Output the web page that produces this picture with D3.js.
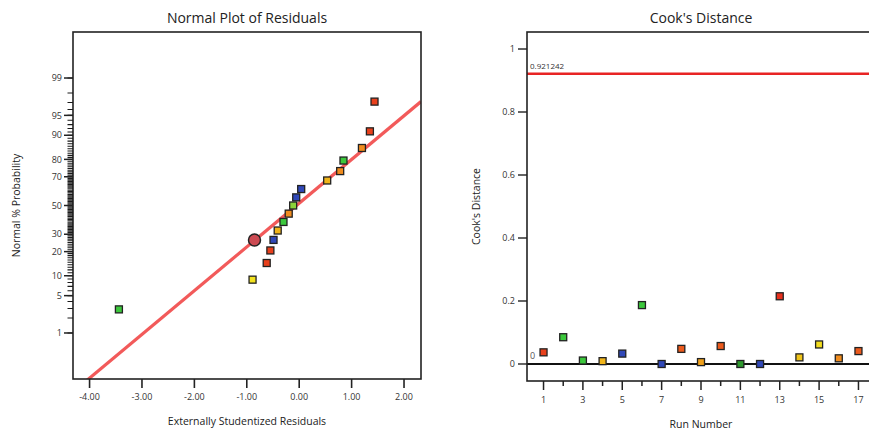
<!DOCTYPE html>
<html>
<head>
<meta charset="utf-8">
<script src="https://cdn.jsdelivr.net/npm/d3@7"></script>
<style>
  html, body { margin: 0; padding: 0; background: #fff; }
  svg { display: block; font-family: "Open Sans", "Noto Sans", sans-serif; }
</style>
</head>
<body>
<svg id="chart" width="869" height="430"></svg>
<script>
// ---- Normal plot of residuals ----
const residuals = [-3.44, -0.89, -0.62, -0.55, -0.49, -0.41, -0.30, -0.20, -0.115,
                   -0.057, 0.038, 0.534, 0.782, 0.845, 1.197, 1.349, 1.437];
const normalPct = [2.9, 8.8, 14.7, 20.6, 26.5, 32.4, 38.2, 44.1, 50.0,
                   55.9, 61.8, 67.6, 73.5, 79.4, 85.3, 91.2, 97.1];
const residColors = ["#3cc83c", "#f2e21e", "#e8401c", "#e8401c", "#3048b8", "#f0b41a",
                     "#3cc83c", "#f08c1e", "#8cd23a", "#3048b8", "#3048b8", "#f0b41a",
                     "#f08c1e", "#3cc83c", "#f08c1e", "#e8401c", "#e8401c"];
const highlightResidual = [-0.853];
const highlightPct = [26.5];
const fitIntercept = 0.042;   // normal quantile at residual 0
const fitSlope = 0.798;       // normal quantile per unit residual
const residTicks = [-4, -3, -2, -1, 0, 1, 2];
const probTicks = [1, 5, 10, 20, 30, 50, 70, 80, 90, 95, 99];
const probMinorTicks = d3.range(1, 100);

// ---- Cook's distance ----
const runs = d3.range(1, 18);
const cooks = [0.037, 0.085, 0.011, 0.009, 0.033, 0.187, 0.0, 0.048, 0.006,
               0.057, 0.0, 0.0, 0.215, 0.021, 0.062, 0.018, 0.041];
const cookColors = ["#e8401c", "#3cc83c", "#3cc83c", "#f0b41a", "#3048b8", "#3cc83c",
                    "#3048b8", "#ec5a1c", "#f0a01a", "#ec5a1c", "#2e9a2e", "#3048b8",
                    "#e8301c", "#f0c41a", "#f2dc1e", "#f08c1e", "#ec5a1c"];
const cookLimit = 0.921242;
const cookTicks = [0, 0.2, 0.4, 0.6, 0.8, 1];
const runTicks = runs;

// Inverse standard normal CDF (Acklam's rational approximation)
function probit(p) {
  const a = [-3.969683028665376e+01, 2.209460984245205e+02, -2.759285104469687e+02,
             1.383577518672690e+02, -3.066479806614716e+01, 2.506628277459239e+00];
  const b = [-5.447609879822406e+01, 1.615858368580409e+02, -1.556989798598866e+02,
             6.680131188771972e+01, -1.328068155288572e+01];
  const c = [-7.784894002430293e-03, -3.223964580411365e-01, -2.400758277161838e+00,
             -2.549732539343734e+00, 4.374664141464968e+00, 2.938163982698783e+00];
  const e = [7.784695709041462e-03, 3.224671290700398e-01, 2.445134137142996e+00,
             3.754408661907416e+00];
  const pl = 0.02425, ph = 1 - pl;
  let q, r;
  if (p < pl) {
    q = Math.sqrt(-2 * Math.log(p));
    return (((((c[0]*q+c[1])*q+c[2])*q+c[3])*q+c[4])*q+c[5]) / ((((e[0]*q+e[1])*q+e[2])*q+e[3])*q+1);
  }
  if (p <= ph) {
    q = p - 0.5; r = q * q;
    return (((((a[0]*r+a[1])*r+a[2])*r+a[3])*r+a[4])*r+a[5])*q / (((((b[0]*r+b[1])*r+b[2])*r+b[3])*r+b[4])*r+1);
  }
  q = Math.sqrt(-2 * Math.log(1 - p));
  return -(((((c[0]*q+c[1])*q+c[2])*q+c[3])*q+c[4])*q+c[5]) / ((((e[0]*q+e[1])*q+e[2])*q+e[3])*q+1);
}

const svg = d3.select("#chart");
const ink = "#222";
const tickFont = "9px";
const labelFont = "10.5px";
const titleFont = "14px";

// ================= Left panel =================
const L = { left: 73, right: 421, top: 32, bottom: 379 };
const xRes = d3.scaleLinear().domain([-4.316, 2.324]).range([L.left, L.right]);
const zScale = d3.scaleLinear().domain([-3.166, 3.166]).range([L.bottom, L.top]);
const yProb = p => zScale(probit(p / 100));

const left = svg.append("g");
left.append("clipPath").attr("id", "clipL")
  .append("rect").attr("x", L.left).attr("y", L.top)
  .attr("width", L.right - L.left).attr("height", L.bottom - L.top);

// fitted line
const xd = xRes.domain();
left.append("line")
  .attr("clip-path", "url(#clipL)")
  .attr("x1", xRes(xd[0])).attr("y1", zScale(fitIntercept + fitSlope * xd[0]))
  .attr("x2", xRes(xd[1])).attr("y2", zScale(fitIntercept + fitSlope * xd[1]))
  .attr("stroke", "#f25a5a").attr("stroke-width", 3.2);

// frame
left.append("rect")
  .attr("x", L.left).attr("y", L.top)
  .attr("width", L.right - L.left).attr("height", L.bottom - L.top)
  .attr("fill", "none").attr("stroke", ink).attr("stroke-width", 1.6);

// y axis minor + major ticks (probability scale)
const minorPath = d3.path();
probMinorTicks.forEach(p => {
  minorPath.moveTo(L.left - 5.5, yProb(p));
  minorPath.lineTo(L.left, yProb(p));
});
left.append("path").attr("d", minorPath.toString())
  .attr("fill", "none").attr("stroke", "#1a1a1a").attr("stroke-width", 1.1);
left.append("g").selectAll("line").data(probTicks).join("line")
  .attr("x1", L.left - 9).attr("x2", L.left)
  .attr("y1", d => yProb(d)).attr("y2", d => yProb(d))
  .attr("stroke", ink).attr("stroke-width", 1.5);
left.append("g").selectAll("text").data(probTicks).join("text")
  .attr("x", L.left - 11).attr("y", d => yProb(d))
  .attr("dy", "0.35em").attr("text-anchor", "end")
  .attr("font-size", tickFont).attr("fill", "#333")
  .text(d => d);

// x axis ticks
left.append("g").selectAll("line").data(residTicks).join("line")
  .attr("x1", d => xRes(d)).attr("x2", d => xRes(d))
  .attr("y1", L.bottom).attr("y2", L.bottom + 9)
  .attr("stroke", ink).attr("stroke-width", 1.6);
left.append("g").selectAll("text").data(residTicks).join("text")
  .attr("x", d => xRes(d)).attr("y", L.bottom + 21)
  .attr("text-anchor", "middle")
  .attr("font-size", tickFont).attr("fill", "#333")
  .text(d => d3.format(".2f")(d).replace("−", "-"));

// points
left.append("g").selectAll("rect").data(residuals).join("rect")
  .attr("x", d => xRes(d) - 3.5)
  .attr("y", (d, i) => yProb(normalPct[i]) - 3.5)
  .attr("width", 7).attr("height", 7)
  .attr("fill", (d, i) => residColors[i])
  .attr("stroke", ink).attr("stroke-width", 1.3);

// highlighted run
left.append("g").selectAll("circle").data(highlightResidual).join("circle")
  .attr("cx", d => xRes(d)).attr("cy", (d, i) => yProb(highlightPct[i]))
  .attr("r", 6)
  .attr("fill", "#cc4a52").attr("stroke", ink).attr("stroke-width", 1.5);

// titles
left.append("text").attr("x", (L.left + L.right) / 2).attr("y", 23)
  .attr("text-anchor", "middle").attr("font-size", titleFont).attr("fill", "#222")
  .text("Normal Plot of Residuals");
left.append("text").attr("x", (L.left + L.right) / 2).attr("y", 425)
  .attr("text-anchor", "middle").attr("font-size", labelFont).attr("fill", "#222")
  .text("Externally Studentized Residuals");
left.append("text")
  .attr("transform", `translate(20,${(L.top + L.bottom) / 2}) rotate(-90)`)
  .attr("text-anchor", "middle").attr("font-size", labelFont).attr("fill", "#222")
  .text("Normal % Probability");

// ================= Right panel =================
const R = { left: 527, right: 875, top: 32, bottom: 381 };
const xRun = d3.scaleLinear().domain([0.16, 17.84]).range([R.left, R.right]);
const yCook = d3.scaleLinear().domain([-0.054, 1.054]).range([R.bottom, R.top]);

const right = svg.append("g");

// zero reference line
right.append("line")
  .attr("x1", R.left).attr("x2", R.right)
  .attr("y1", yCook(0)).attr("y2", yCook(0))
  .attr("stroke", "#111").attr("stroke-width", 2);

// limit line
right.append("line")
  .attr("x1", R.left).attr("x2", R.right)
  .attr("y1", yCook(cookLimit)).attr("y2", yCook(cookLimit))
  .attr("stroke", "#e82424").attr("stroke-width", 2.6);
right.append("text").attr("x", R.left + 3).attr("y", yCook(cookLimit) - 5)
  .attr("font-size", "8px").attr("fill", "#333").text(cookLimit);
right.append("text").attr("x", R.left + 3).attr("y", yCook(0) - 5)
  .attr("font-size", "9px").attr("fill", "#555").text("0");

// frame
right.append("rect")
  .attr("x", R.left).attr("y", R.top)
  .attr("width", R.right - R.left).attr("height", R.bottom - R.top)
  .attr("fill", "none").attr("stroke", ink).attr("stroke-width", 1.6);

// y ticks
right.append("g").selectAll("line").data(cookTicks).join("line")
  .attr("x1", R.left - 9).attr("x2", R.left)
  .attr("y1", d => yCook(d)).attr("y2", d => yCook(d))
  .attr("stroke", ink).attr("stroke-width", 1.4);
right.append("g").selectAll("text").data(cookTicks).join("text")
  .attr("x", R.left - 12).attr("y", d => yCook(d))
  .attr("dy", "0.35em").attr("text-anchor", "end")
  .attr("font-size", tickFont).attr("fill", "#333")
  .text(d => d);

// x ticks
right.append("g").selectAll("line").data(runTicks).join("line")
  .attr("x1", d => xRun(d)).attr("x2", d => xRun(d))
  .attr("y1", R.bottom).attr("y2", d => R.bottom + (d % 2 ? 9 : 5))
  .attr("stroke", ink).attr("stroke-width", 1.5);
right.append("g").selectAll("text").data(runTicks.filter(d => d % 2)).join("text")
  .attr("x", d => xRun(d)).attr("y", R.bottom + 22)
  .attr("text-anchor", "middle")
  .attr("font-size", tickFont).attr("fill", "#333")
  .text(d => d);

// points
right.append("g").selectAll("rect").data(cooks).join("rect")
  .attr("x", (d, i) => xRun(runs[i]) - 3.5)
  .attr("y", d => yCook(d) - 3.5)
  .attr("width", 7).attr("height", 7)
  .attr("fill", (d, i) => cookColors[i])
  .attr("stroke", ink).attr("stroke-width", 1.3);

// titles
right.append("text").attr("x", (R.left + R.right) / 2).attr("y", 23)
  .attr("text-anchor", "middle").attr("font-size", titleFont).attr("fill", "#222")
  .text("Cook's Distance");
right.append("text").attr("x", (R.left + R.right) / 2).attr("y", 428)
  .attr("text-anchor", "middle").attr("font-size", labelFont).attr("fill", "#222")
  .text("Run Number");
right.append("text")
  .attr("transform", `translate(480,${(R.top + R.bottom) / 2}) rotate(-90)`)
  .attr("text-anchor", "middle").attr("font-size", labelFont).attr("fill", "#222")
  .text("Cook's Distance");
</script>
</body>
</html>
